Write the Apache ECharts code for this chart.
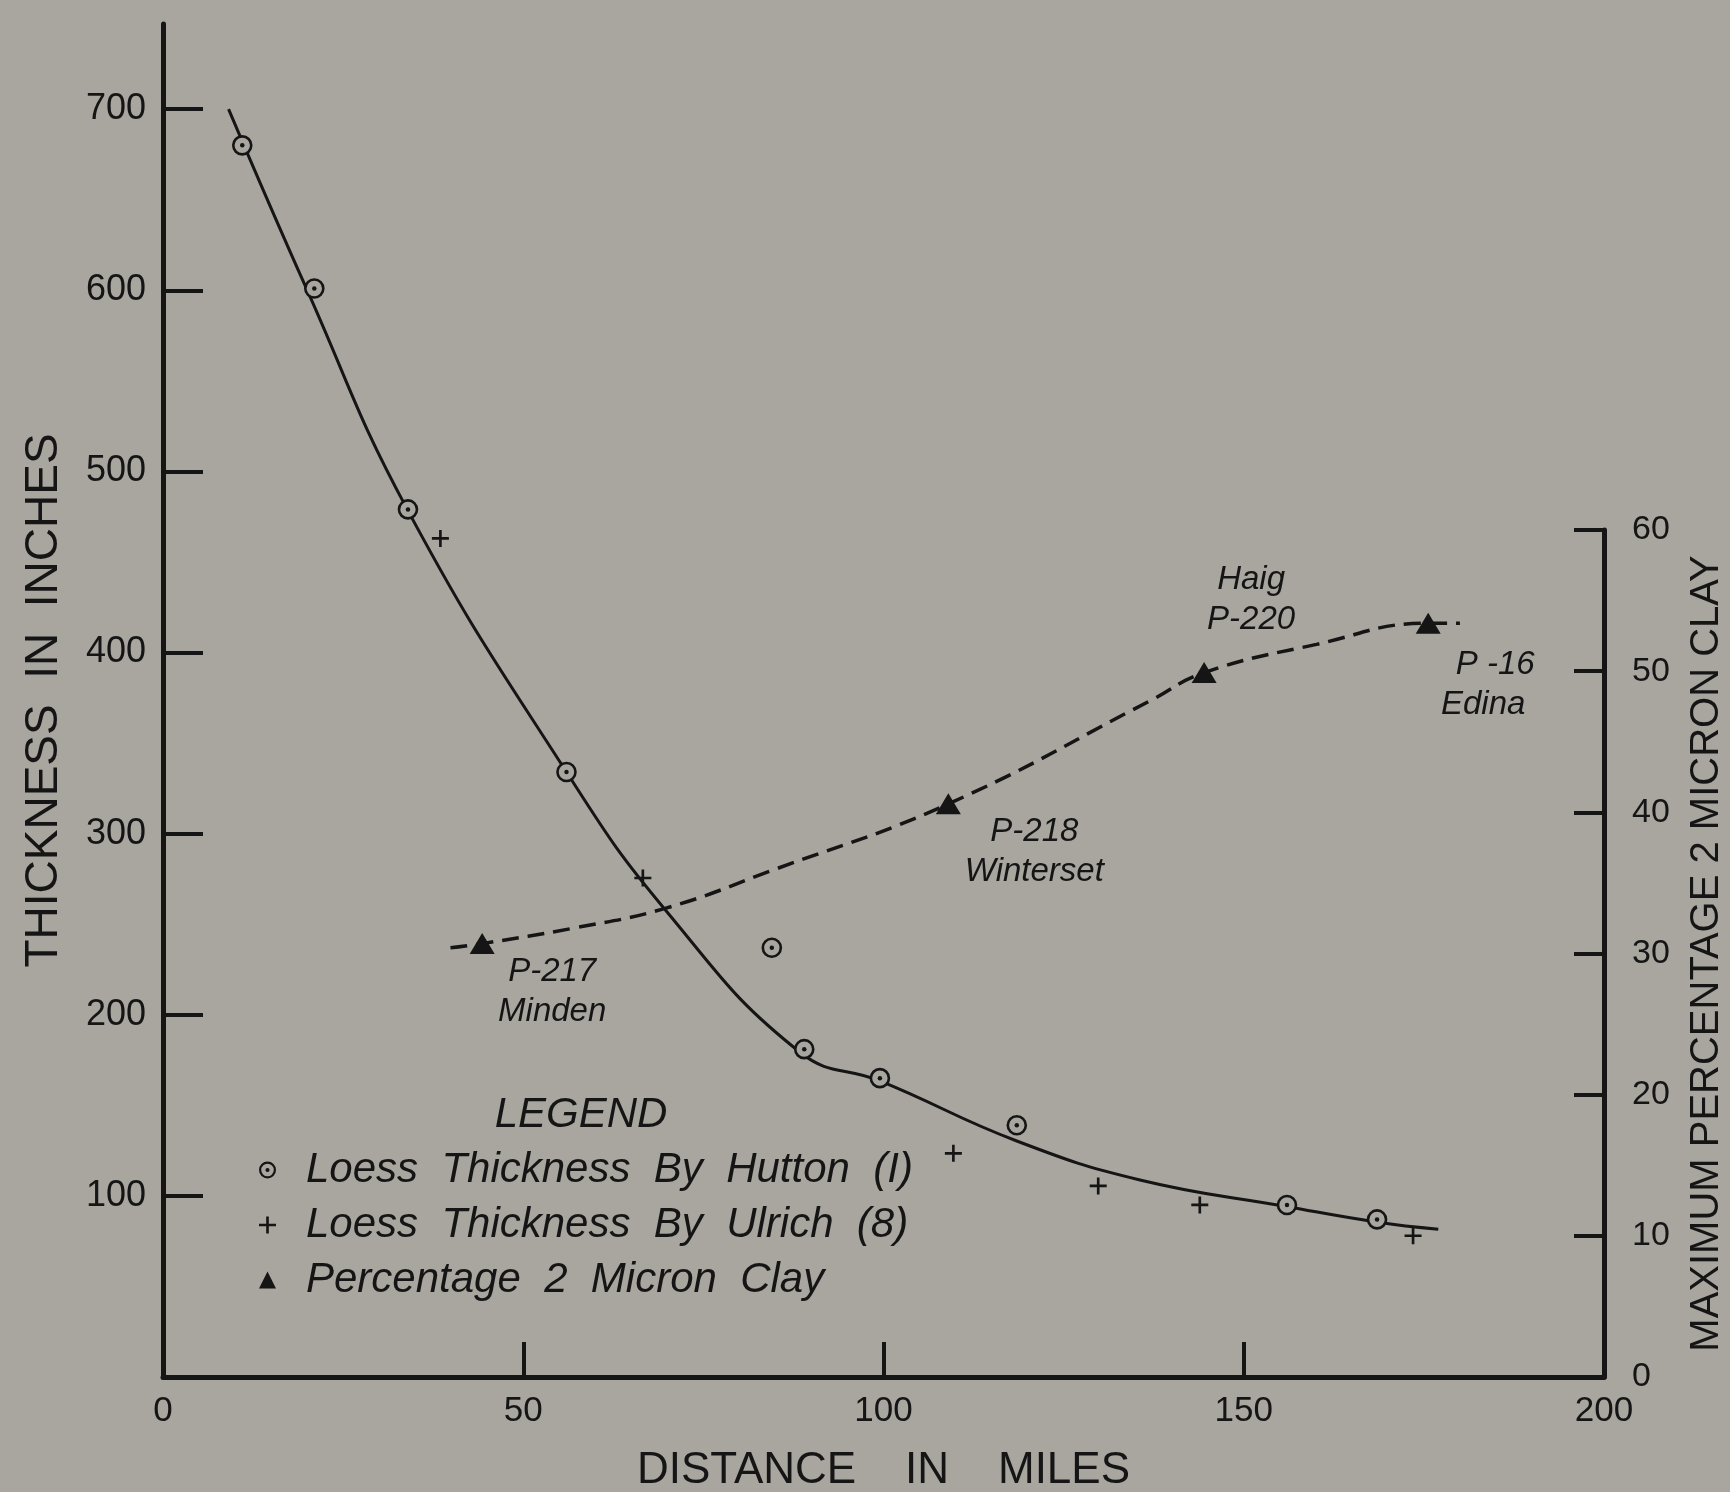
<!DOCTYPE html>
<html>
<head>
<meta charset="utf-8">
<script src="https://cdn.jsdelivr.net/npm/echarts@6/dist/echarts.min.js"></script>
<style>
html,body{margin:0;padding:0;background:#a9a59f;}
#chart{width:1730px;height:1492px;}
</style>
</head>
<body>
<div id="chart"></div>
<script>
// ---------- data ----------
const distanceTicks = [0, 50, 100, 150, 200];
const distanceTickMarks = [50, 100, 150];
const thicknessTicks = [100, 200, 300, 400, 500, 600, 700];
const clayTicks = [0, 10, 20, 30, 40, 50, 60];

// Loess thickness by Hutton (I): [distance miles, thickness inches]
const huttonPoints = [[11, 680], [21, 601], [34, 479], [56, 334], [84.5, 237], [89, 181], [99.5, 165], [118.5, 139], [156, 95], [168.5, 87]];
// Loess thickness by Ulrich (8)
const ulrichPoints = [[38.5, 463], [66.6, 275.5], [109.7, 123.5], [129.8, 105.5], [143.9, 95], [173.5, 78]];
// Percentage 2 micron clay: [distance miles, percent]
const clayPoints = [[44.3, 30.7], [109, 40.6], [144.5, 49.9], [175.6, 53.4]];
const claySites = ['P-217\nMinden', 'P-218\nWinterset', 'Haig\nP-220', 'P -16\nEdina'];

// Hand-drawn fitted curves
const thicknessCurve = [[9.1, 700], [19.9, 601], [33.9, 479], [56, 334], [69.7, 258], [88.5, 179], [99.5, 163.5], [118.5, 130.3], [135.6, 108.8], [156.1, 94], [168.4, 85.6], [177, 81.6]];
const clayCurve = [[39.9, 30.4], [44.3, 30.7], [57, 31.8], [69.7, 33.2], [84.6, 35.9], [109, 40.6], [137, 47.9], [144.5, 49.9], [160.1, 51.9], [175.6, 53.4], [180, 53.4]];

const seriesNames = ['Loess Thickness By Hutton (I)', 'Loess Thickness By Ulrich (8)', 'Percentage 2 Micron Clay'];

// ---------- styling ----------
const INK = '#151515';
const BG = '#a9a59f';
const FONT = '"Liberation Sans", Arial, sans-serif';
const ringIcon = 'path://M10,0A10,10,0,1,1,10,20A10,10,0,1,1,10,0ZM10,2.6A7.4,7.4,0,1,0,10,17.4A7.4,7.4,0,1,0,10,2.6ZM10,7.6A2.4,2.4,0,1,1,10,12.4A2.4,2.4,0,1,1,10,7.6Z';
const plusIcon = 'path://M6.75,0H9.25V6.75H16V9.25H9.25V16H6.75V9.25H0V6.75H6.75Z';
const siteLabelOffsets = [[70, 48], [86, 48], [47, -73], [55, 62]];

const chart = echarts.init(document.getElementById('chart'), null, {renderer: 'canvas'});

const siteLabelBase = {
  show: true, position: 'inside', align: 'center', verticalAlign: 'middle',
  fontFamily: FONT, fontStyle: 'italic', fontSize: 33, lineHeight: 40, color: INK
};

const option = {
  backgroundColor: BG,
  animation: false,
  grid: [
    {left: 163, right: 126, top: 24, bottom: 115, containLabel: false, outerBoundsMode: 'none'},
    {left: 163, right: 126, top: 530, bottom: 115, containLabel: false, outerBoundsMode: 'none'}
  ],
  xAxis: [
    {
      type: 'value', gridIndex: 0, min: 0, max: 200, interval: 50,
      name: 'DISTANCE    IN    MILES', nameLocation: 'middle', nameGap: 72,
      nameTextStyle: {fontFamily: FONT, fontSize: 44, color: INK},
      axisLine: {show: true, onZero: false, lineStyle: {color: INK, width: 5}},
      axisTick: {show: true, inside: true, length: 35, customValues: distanceTickMarks, lineStyle: {color: INK, width: 4}},
      axisLabel: {show: true, margin: 17, fontFamily: FONT, fontSize: 35, color: INK, customValues: distanceTicks},
      splitLine: {show: false}
    },
    {
      type: 'value', gridIndex: 1, min: 0, max: 200, interval: 50, show: false
    }
  ],
  yAxis: [
    {
      type: 'value', gridIndex: 0, position: 'left', min: 0, max: 747, interval: 100,
      name: 'THICKNESS  IN  INCHES', nameLocation: 'middle', nameGap: 96, nameRotate: 90,
      nameTextStyle: {fontFamily: FONT, fontSize: 46, color: INK},
      axisLine: {show: true, onZero: false, lineStyle: {color: INK, width: 5}},
      axisTick: {show: true, inside: true, length: 40, customValues: thicknessTicks, lineStyle: {color: INK, width: 4}},
      axisLabel: {show: true, margin: 17, fontFamily: FONT, fontSize: 36, color: INK, customValues: thicknessTicks},
      splitLine: {show: false}
    },
    {
      type: 'value', gridIndex: 1, position: 'right', min: 0, max: 60, interval: 10,
      name: 'MAXIMUM PERCENTAGE 2 MICRON CLAY', nameLocation: 'middle', nameGap: 83, nameRotate: 90,
      nameTextStyle: {fontFamily: FONT, fontSize: 40, color: INK},
      axisLine: {show: true, onZero: false, lineStyle: {color: INK, width: 5}},
      axisTick: {show: true, inside: true, length: 30, customValues: clayTicks, lineStyle: {color: INK, width: 4}},
      axisLabel: {show: true, margin: 28, fontFamily: FONT, fontSize: 34, color: INK, customValues: clayTicks},
      splitLine: {show: false}
    }
  ],
  legend: {
    orient: 'vertical', left: 254, top: 1142, itemGap: 9, itemWidth: 17, itemHeight: 17,
    textStyle: {fontFamily: FONT, fontStyle: 'italic', fontSize: 42, lineHeight: 46, color: INK, padding: [0, 0, 0, 25]},
    formatter: function (name) { return name.split(' ').join('  '); },
    data: [
      {name: seriesNames[0], icon: ringIcon, itemStyle: {color: INK, borderWidth: 0}},
      {name: seriesNames[1], icon: plusIcon, itemStyle: {color: INK, borderWidth: 0}},
      {name: seriesNames[2], icon: 'triangle', itemStyle: {color: INK, borderWidth: 0}}
    ]
  },
  graphic: [
    {
      type: 'text', x: 581, y: 1115, silent: true,
      style: {text: 'LEGEND', align: 'center', verticalAlign: 'middle', fill: INK,
              font: 'italic 42px "Liberation Sans", Arial, sans-serif'}
    }
  ],
  series: [
    {
      name: 'thickness curve', type: 'line', xAxisIndex: 0, yAxisIndex: 0,
      data: thicknessCurve, showSymbol: false, smooth: 0.45, silent: true, z: 2,
      lineStyle: {color: INK, width: 3}
    },
    {
      name: 'clay curve', type: 'line', xAxisIndex: 1, yAxisIndex: 1,
      data: clayCurve, showSymbol: false, smooth: 0.45, silent: true, z: 2,
      lineStyle: {color: INK, width: 3.5, type: [17, 9]}
    },
    {
      name: seriesNames[0], type: 'scatter', xAxisIndex: 0, yAxisIndex: 0,
      data: huttonPoints, symbol: 'circle', symbolSize: 18, z: 3,
      itemStyle: {color: BG, borderColor: INK, borderWidth: 2.6, opacity: 1}
    },
    {
      name: 'hutton dots', type: 'scatter', xAxisIndex: 0, yAxisIndex: 0,
      data: huttonPoints, symbol: 'circle', symbolSize: 4.5, z: 4, silent: true,
      itemStyle: {color: INK, opacity: 1}
    },
    {
      name: seriesNames[1], type: 'scatter', xAxisIndex: 0, yAxisIndex: 0,
      data: ulrichPoints, symbol: plusIcon, symbolSize: 17, z: 3,
      itemStyle: {color: INK, opacity: 1}
    },
    {
      name: seriesNames[2], type: 'scatter', xAxisIndex: 1, yAxisIndex: 1,
      symbol: 'triangle', symbolSize: [25, 21], z: 3,
      itemStyle: {color: INK, opacity: 1},
      data: clayPoints.map(function (p, i) {
        const lbl = Object.assign({}, siteLabelBase, {formatter: claySites[i], offset: siteLabelOffsets[i]});
        if (i === 3) {
          const parts = claySites[i].split('\n');
          lbl.formatter = '{a|' + parts[0] + '}\n{b|' + parts[1] + '}';
          lbl.rich = {
            a: {fontFamily: FONT, fontStyle: 'italic', fontSize: 33, lineHeight: 40, color: INK, padding: [0, 0, 0, 24]},
            b: {fontFamily: FONT, fontStyle: 'italic', fontSize: 33, lineHeight: 40, color: INK}
          };
        }
        return {value: p, label: lbl};
      })
    }
  ]
};

chart.setOption(option);
</script>
</body>
</html>
